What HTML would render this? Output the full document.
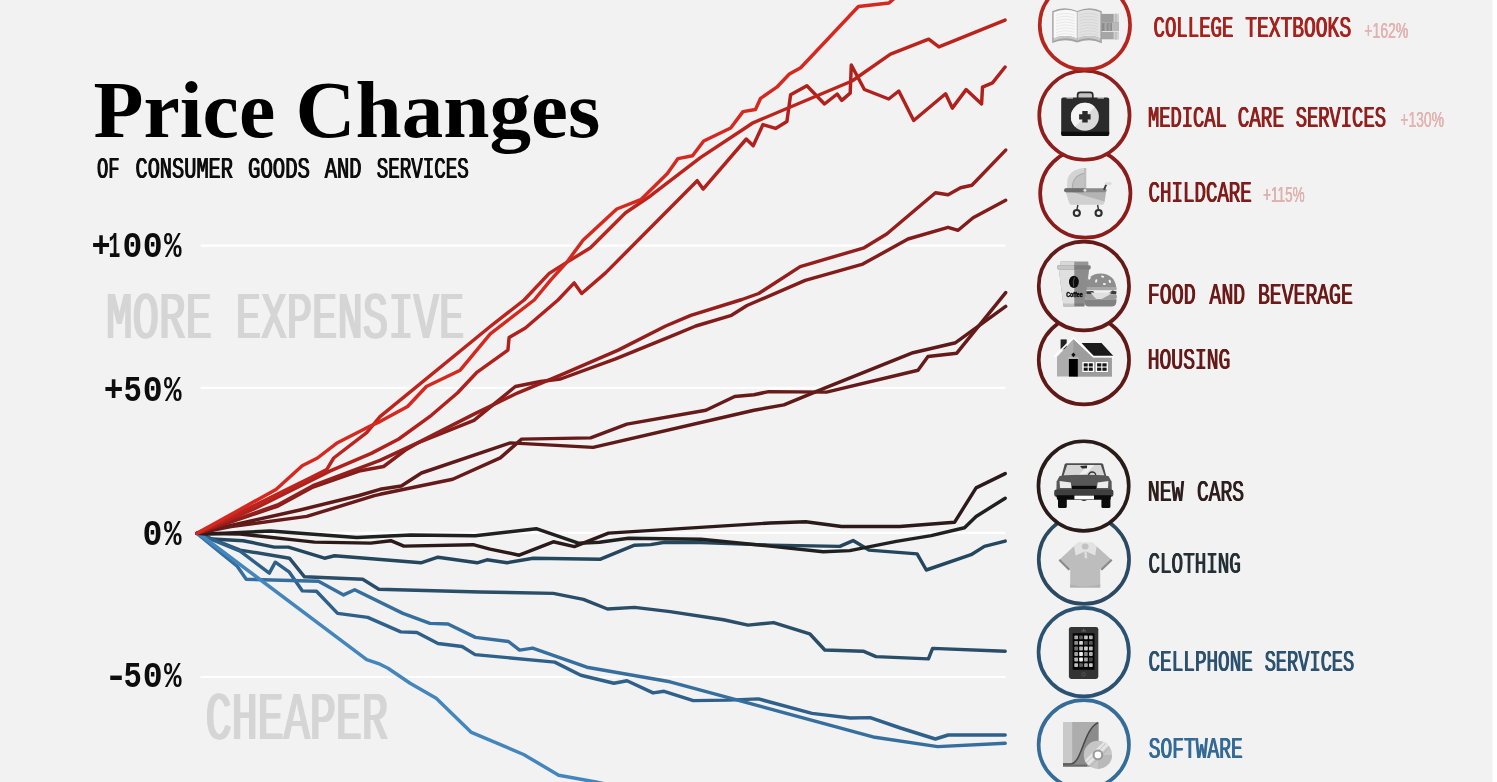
<!DOCTYPE html>
<html lang="en"><head><meta charset="utf-8"><title>Price Changes of Consumer Goods and Services</title>
<style>html,body{margin:0;padding:0;background:#fff;overflow:hidden}svg{display:block;will-change:transform}text{white-space:pre}</style></head><body>
<svg width="1497" height="782" viewBox="0 0 1497 782">
<rect x="0" y="0" width="1497" height="782" fill="#ffffff"/>
<rect x="0" y="0" width="1492.5" height="782" fill="#f2f2f2"/>
<g stroke="#ffffff" stroke-width="2.2">
<line x1="200.6" y1="245.7" x2="1005.3" y2="245.7"/>
<line x1="200.6" y1="387.8" x2="1005.3" y2="387.8"/>
<line x1="200.6" y1="532.9" x2="1005.3" y2="532.9"/>
<line x1="200.6" y1="677.0" x2="1005.3" y2="677.0"/>
</g>
<g font-family="'Liberation Mono', monospace" font-size="67.25" font-weight="normal" fill="#d5d5d5"><text id="t1" y="338.00"><tspan x="105.91" textLength="106.20" lengthAdjust="spacingAndGlyphs">MORE</tspan> <tspan x="235.85" textLength="228.56" lengthAdjust="spacingAndGlyphs">EXPENSIVE</tspan></text><use href="#t1" x="-1.00"/><use href="#t1" x="1.00"/></g>
<g font-family="'Liberation Mono', monospace" font-size="68.01" font-weight="normal" fill="#d5d5d5"><text id="t2" y="739.30"><tspan x="205.61" textLength="182.30" lengthAdjust="spacingAndGlyphs">CHEAPER</tspan></text><use href="#t2" x="-1.10"/><use href="#t2" x="1.10"/></g>
<g fill="none" stroke-width="3.45" stroke-linecap="round" stroke-linejoin="round">
<polyline stroke="#24475e" points="197,533.3 212,539 243.2,540.7 274.3,547.1 288.4,547.1 324.5,558.2 334.6,555.8 420.9,562.8 438,557.2 477.1,562.8 487,559.8 507.1,562.7 533.2,558.2 600.5,559.2 634.6,545.2 650.7,544.6 664.7,542.2 700.9,542.6 770,545.1 839.8,546.4 853.1,540.6 868.9,550.1 917.1,553.9 926.3,570 971.1,554.7 984.4,546.4 1005.2,541.1"/>
<polyline stroke="#2a4d68" points="197,533.3 212.1,539.1 240.2,550.1 289.4,558.2 304.5,576.8 362.7,579.3 378.8,589.3 480,592 553.3,593.4 583.4,599.4 607.5,609 634.6,607.4 670,611.6 723.5,619.8 748,625.1 773.6,622.6 809.7,633.8 824.8,650 863.2,651.2 876,656.6 928.4,658.9 932.6,648.4 1005.2,651.2"/>
<polyline stroke="#2f6089" points="197,533.3 240.2,551.1 269.3,573.2 275.3,562.2 289.4,572.2 302.4,590.9 316.5,591.3 337.6,613.4 367.7,617.4 400.8,631.9 416.9,632.5 438,643.5 462.1,646.5 475.1,654.6 554.7,662.1 580.8,675.2 613.9,683.2 627,680.8 653.1,692.9 664.1,691.3 693.3,700.6 728.2,700.1 758.5,698.9 812,713.4 850.4,718 870.2,717.6 900.4,728 935.4,739 948.2,735 1005.2,735"/>
<polyline stroke="#366f9d" points="197,533.3 221.1,553.2 237.2,566.2 246.2,579.3 318.5,581.3 343.6,594.9 354.7,589.7 402.9,613.4 430,623.4 448,624 475.4,637.4 508.5,641.5 519.6,650.1 532.6,648.1 586.8,667.2 670,681.8 874.8,737.3 937.7,746.6 1005.2,743.2"/>
<polyline stroke="#4386bd" points="197,533.3 202,536 366.7,659.6 380,664.2 388,668.2 410.1,683.2 436.2,698.3 471.4,732.4 523.6,754.5 558.7,775.2 595.9,782 615,786"/>
<polyline stroke="#202020" points="197,533.3 208,534 270.3,531 356.7,537.5 410.9,535 475.1,535.7 536.2,528.7 578.4,543.2 599.5,542.2 628.6,538.2 700.9,539.2 770,546.1 823.2,551.7 849.8,550.6 896.3,541.4 931.2,535.6 964.5,527.8 976.1,516.5 1005.2,498.2"/>
<polyline stroke="#2c1a1a" points="197,533.3 240.2,534 314.5,542.1 370.7,543.1 390.8,540.7 403.9,546.1 473.1,544.7 490,549.1 519.2,555.2 553.3,541.8 574.4,546.6 608.5,533.1 770,523 805.7,521.8 841.5,526.5 899.7,526.5 954.5,522.3 976.1,487.9 1005.2,473.6"/>
<polyline stroke="#5e1a18" points="197,533.3 231,525.5 300,510 359,495.5 380,489.3 401.3,486 421.4,473 510.4,442.9 593.1,447.4 754,410.3 783.9,404.9 825.2,387.8 913,352.7 955.6,342.7 1005.7,306.4"/>
<polyline stroke="#661a19" points="197,533.3 231,526.5 306.8,516.4 374.4,495.7 380,494.3 452.7,479.2 500.3,457.9 521.6,439.1 590.6,437.9 626.9,424.1 705.9,410.3 734.7,396.5 754,394.8 768.8,391.6 826.5,392.1 918,370.3 928,356.5 956.8,353.2 1005.7,292.6"/>
<polyline stroke="#821c1a" points="197,533.3 278,506 313,487 359,471 383.6,466.5 405.1,450.3 417.6,443 474,420.3 515.4,386.5 540.4,381.5 560.5,379 615.6,358.9 670.8,336.3 695.8,326 731.5,315.3 747,305.5 805.2,280.4 862.8,264.1 908,239 948.1,227.3 958.1,230.3 973.1,217.7 1005.7,200.2"/>
<polyline stroke="#931e1b" points="197,533.3 277.6,504.9 312.9,485.7 380,460.4 417.6,442.9 474,414.1 517.9,392.8 560.5,375.2 618.2,350.1 665.7,326 690.8,315.3 742,299.5 758.7,293.5 800.2,266.6 864.1,247.8 886.7,234 935.5,192.7 948.1,194.7 960.6,187.7 971.9,185.2 1005.7,150.1"/>
<polyline stroke="#b0201c" points="197,533.3 254.5,508.7 329.8,471.1 371.3,453.4 398.8,439 431.4,415.3 457.7,392.8 476.5,372.7 507.9,350.1 509.1,337.6 525.4,328 558,300 574.2,282.9 581.7,293.5 605.6,272.9 697.2,180.7 703.1,189.1 746.3,139 753.2,145.7 763,124.6 775.6,128.4 786.9,121.6 790.6,94.8 806.9,85.7 824.5,104 837.2,94 841.8,100.4 850.2,93.1 851.3,65 864.4,89.5 888.7,99 898.8,91 913.7,120.5 945.6,93.8 952.3,108.1 966.1,89.6 981.6,103.9 982.5,87.1 992.5,82.9 1005.1,67"/>
<polyline stroke="#bb241d" points="197,533.3 276,494.9 312.9,476.5 326.7,469.6 333.7,458 366.7,432.7 380,416.6 490.2,326.5 524.1,300 549.2,273.4 566.7,262.4 590.5,247.8 625.6,212.7 650.7,195.7 700.4,157.6 746,127.5 753,122.8 852,81 890.5,54.2 928.7,39.2 938.9,46.9 1005.1,20.1"/>
<polyline stroke="#d5281f" points="197,533.3 276,489.5 302.2,465.7 317.5,458 337.5,442.7 370.3,426 380,421.6 407.6,406.5 426.4,386.5 460.2,370.2 490.3,333.8 534.2,300 550.4,280.4 566.7,262.4 583,240.3 616.8,209 640.7,199.7 667.4,173.5 678,158.6 692.5,155.8 703.7,141 730.7,128 743,111.6 755.5,109.5 760.6,98.3 776.8,87.2 789.4,74 800.7,67.7 858.4,6.5 889,3 897,-4"/>
</g>
<g font-family="'Liberation Serif', serif" font-size="80.80" font-weight="bold" fill="#000000"><text id="t3" y="136.80"><tspan x="93.50" textLength="181.72" lengthAdjust="spacingAndGlyphs">Price</tspan> <tspan x="295.54" textLength="304.79" lengthAdjust="spacingAndGlyphs">Changes</tspan></text></g>
<g font-family="'Liberation Mono', monospace" font-size="30.21" font-weight="normal" fill="#0d0d0d"><text id="t4" y="178.20"><tspan x="96.91" textLength="22.61" lengthAdjust="spacingAndGlyphs">OF</tspan> <tspan x="135.48" textLength="97.49" lengthAdjust="spacingAndGlyphs">CONSUMER</tspan> <tspan x="248.06" textLength="61.96" lengthAdjust="spacingAndGlyphs">GOODS</tspan> <tspan x="324.70" textLength="36.74" lengthAdjust="spacingAndGlyphs">AND</tspan> <tspan x="376.76" textLength="91.98" lengthAdjust="spacingAndGlyphs">SERVICES</tspan></text><use href="#t4" x="-0.50"/><use href="#t4" x="0.50"/></g>
<g font-family="'Liberation Mono', monospace" font-size="36.08" font-weight="bold" fill="#0d0d0d"><text id="t5" y="256.80"><tspan x="91.43" textLength="19.15" lengthAdjust="spacingAndGlyphs">+</tspan><tspan x="108.47" textLength="11.87" lengthAdjust="spacingAndGlyphs">1</tspan><tspan x="122.42" textLength="19.78" lengthAdjust="spacingAndGlyphs">0</tspan><tspan x="142.80" textLength="19.91" lengthAdjust="spacingAndGlyphs">0</tspan><tspan x="164.00" textLength="17.59" lengthAdjust="spacingAndGlyphs">%</tspan></text></g>
<g font-family="'Liberation Mono', monospace" font-size="36.08" font-weight="bold" fill="#0d0d0d"><text id="t6" y="400.60"><tspan x="103.78" textLength="19.75" lengthAdjust="spacingAndGlyphs">+</tspan><tspan x="123.55" textLength="18.33" lengthAdjust="spacingAndGlyphs">5</tspan><tspan x="142.80" textLength="19.91" lengthAdjust="spacingAndGlyphs">0</tspan><tspan x="164.00" textLength="17.59" lengthAdjust="spacingAndGlyphs">%</tspan></text></g>
<g font-family="'Liberation Mono', monospace" font-size="36.38" font-weight="bold" fill="#0d0d0d"><text id="t7" y="544.60"><tspan x="142.40" textLength="19.91" lengthAdjust="spacingAndGlyphs">0</tspan><tspan x="164.00" textLength="17.59" lengthAdjust="spacingAndGlyphs">%</tspan></text></g>
<g font-family="'Liberation Mono', monospace" font-size="36.08" font-weight="bold" fill="#0d0d0d"><text id="t8" y="686.80"><tspan x="103.82" textLength="24.58" lengthAdjust="spacingAndGlyphs">-</tspan><tspan x="123.55" textLength="18.33" lengthAdjust="spacingAndGlyphs">5</tspan><tspan x="142.80" textLength="19.91" lengthAdjust="spacingAndGlyphs">0</tspan><tspan x="164.00" textLength="17.59" lengthAdjust="spacingAndGlyphs">%</tspan></text></g>
<g font-family="'Liberation Mono', monospace" font-size="29.76" font-weight="normal" fill="#a5221f"><text id="t9" y="36.70"><tspan x="1153.55" textLength="79.84" lengthAdjust="spacingAndGlyphs">COLLEGE</tspan> <tspan x="1245.27" textLength="105.89" lengthAdjust="spacingAndGlyphs">TEXTBOOKS</tspan></text><use href="#t9" x="-0.50"/><use href="#t9" x="0.50"/></g>
<g font-family="'Liberation Sans', sans-serif" font-size="22.18" font-weight="normal" fill="#e3b3b2"><text id="t10" y="37.70"><tspan x="1364.37" textLength="43.88" lengthAdjust="spacingAndGlyphs">+162%</tspan></text><use href="#t10" x="-0.15"/><use href="#t10" x="0.15"/></g>
<g font-family="'Liberation Mono', monospace" font-size="29.76" font-weight="normal" fill="#8f201d"><text id="t11" y="126.70"><tspan x="1148.02" textLength="78.87" lengthAdjust="spacingAndGlyphs">MEDICAL</tspan> <tspan x="1237.63" textLength="46.48" lengthAdjust="spacingAndGlyphs">CARE</tspan> <tspan x="1295.78" textLength="90.15" lengthAdjust="spacingAndGlyphs">SERVICES</tspan></text><use href="#t11" x="-0.50"/><use href="#t11" x="0.50"/></g>
<g font-family="'Liberation Sans', sans-serif" font-size="22.03" font-weight="normal" fill="#e2b5b3"><text id="t12" y="126.70"><tspan x="1400.37" textLength="43.67" lengthAdjust="spacingAndGlyphs">+130%</tspan></text><use href="#t12" x="-0.15"/><use href="#t12" x="0.15"/></g>
<g font-family="'Liberation Mono', monospace" font-size="29.76" font-weight="normal" fill="#7d1c1a"><text id="t13" y="201.70"><tspan x="1148.55" textLength="103.25" lengthAdjust="spacingAndGlyphs">CHILDCARE</tspan></text><use href="#t13" x="-0.50"/><use href="#t13" x="0.50"/></g>
<g font-family="'Liberation Sans', sans-serif" font-size="22.03" font-weight="normal" fill="#dfb2b0"><text id="t14" y="201.70"><tspan x="1263.10" textLength="41.52" lengthAdjust="spacingAndGlyphs">+115%</tspan></text><use href="#t14" x="-0.15"/><use href="#t14" x="0.15"/></g>
<g font-family="'Liberation Mono', monospace" font-size="29.60" font-weight="normal" fill="#6a1b19"><text id="t15" y="304.10"><tspan x="1147.71" textLength="47.90" lengthAdjust="spacingAndGlyphs">FOOD</tspan> <tspan x="1209.60" textLength="35.50" lengthAdjust="spacingAndGlyphs">AND</tspan> <tspan x="1257.94" textLength="94.90" lengthAdjust="spacingAndGlyphs">BEVERAGE</tspan></text><use href="#t15" x="-0.50"/><use href="#t15" x="0.50"/></g>
<g font-family="'Liberation Mono', monospace" font-size="30.06" font-weight="normal" fill="#641a18"><text id="t16" y="369.40"><tspan x="1147.75" textLength="82.56" lengthAdjust="spacingAndGlyphs">HOUSING</tspan></text><use href="#t16" x="-0.50"/><use href="#t16" x="0.50"/></g>
<g font-family="'Liberation Mono', monospace" font-size="29.76" font-weight="normal" fill="#2e1e1e"><text id="t17" y="500.70"><tspan x="1147.72" textLength="35.89" lengthAdjust="spacingAndGlyphs">NEW</tspan> <tspan x="1197.02" textLength="47.05" lengthAdjust="spacingAndGlyphs">CARS</tspan></text><use href="#t17" x="-0.50"/><use href="#t17" x="0.50"/></g>
<g font-family="'Liberation Mono', monospace" font-size="29.91" font-weight="normal" fill="#252f36"><text id="t18" y="573.20"><tspan x="1148.54" textLength="92.34" lengthAdjust="spacingAndGlyphs">CLOTHING</tspan></text><use href="#t18" x="-0.50"/><use href="#t18" x="0.50"/></g>
<g font-family="'Liberation Mono', monospace" font-size="29.76" font-weight="normal" fill="#2c5270"><text id="t19" y="670.70"><tspan x="1148.53" textLength="104.38" lengthAdjust="spacingAndGlyphs">CELLPHONE</tspan> <tspan x="1264.68" textLength="89.54" lengthAdjust="spacingAndGlyphs">SERVICES</tspan></text><use href="#t19" x="-0.50"/><use href="#t19" x="0.50"/></g>
<g font-family="'Liberation Mono', monospace" font-size="29.30" font-weight="normal" fill="#336a96"><text id="t20" y="757.90"><tspan x="1148.85" textLength="93.77" lengthAdjust="spacingAndGlyphs">SOFTWARE</tspan></text><use href="#t20" x="-0.50"/><use href="#t20" x="0.50"/></g>
<ellipse cx="1083.80" cy="744.50" rx="45.15" ry="44.40" fill="#f2f2f2" stroke="#356c98" stroke-width="3.7"/>
<g>
<rect x="1063.0" y="722.0" width="35.5" height="44.5" fill="#adadad"/>
<rect x="1063.0" y="722.0" width="9.2" height="44.5" fill="#c9c9c9"/>
<path d="M1063.0,764.2 L1070.5,764.2 C1082,764.2 1083,730 1098.5,722.2 L1098.5,766.5 L1063.0,766.5 Z" fill="#8b8b8b"/>
<path d="M1063.0,764.0 L1070.5,764.0 C1082,764.0 1083,730 1098.0,722.6" fill="none" stroke="#474747" stroke-width="1.5"/>
<rect x="1063.0" y="764.6" width="24" height="1.9" fill="#6a6a6a"/>
<circle cx="1097.9" cy="754.9" r="14.1" fill="#c6c6c6"/>
<path d="M1088.6,765.5 L1108.6,745.6 A14.1,14.1 0 0 0 1103.4,741.9 L1084.8,760.2 A14.1,14.1 0 0 0 1088.6,765.5 Z" fill="#e4e4e4"/>
<path d="M1090.2,766.7 L1109.6,747.2" stroke="#b2b2b2" stroke-width="0.9" fill="none"/>
<path d="M1086.4,763.0 L1105.8,743.4" stroke="#bdbdbd" stroke-width="0.9" fill="none"/>
<path d="M1097.9,769 A14.1,14.1 0 0 0 1112,754.9 L1097.9,754.9 Z" fill="#aeaeae" opacity="0.55"/>
<circle cx="1097.9" cy="754.9" r="5.4" fill="#9a9a9a"/>
<circle cx="1097.9" cy="754.9" r="3.3" fill="#ffffff"/>
</g>
<ellipse cx="1083.70" cy="652.05" rx="45.15" ry="44.20" fill="#f2f2f2" stroke="#2c5272" stroke-width="3.7"/>
<g><rect x="1068.9" y="626.9" width="29.4" height="52.1" rx="2.4" fill="#343434"/><rect x="1072.7" y="633.2" width="21.8" height="36.6" fill="#050505"/><path d="M1081.4,631.0 L1086.0,631.0 M1083.7,628.6 L1083.7,631.0" stroke="#8c8c8c" stroke-width="0.6" fill="none"/><circle cx="1083.6" cy="674.4" r="1.7" fill="none" stroke="#6a6a6a" stroke-width="0.6"/><rect x="1074.30" y="635.40" width="3.7" height="3.9" rx="0.7" fill="#a8a8a8"/><rect x="1079.20" y="635.40" width="3.7" height="3.9" rx="0.7" fill="#5d5d5d"/><rect x="1084.10" y="635.40" width="3.7" height="3.9" rx="0.7" fill="#c4c4c4"/><rect x="1089.00" y="635.40" width="3.7" height="3.9" rx="0.7" fill="#b2b2b2"/><rect x="1074.30" y="640.95" width="3.7" height="3.9" rx="0.7" fill="#8f8f8f"/><rect x="1079.20" y="640.95" width="3.7" height="3.9" rx="0.7" fill="#d6d6d6"/><rect x="1084.10" y="640.95" width="3.7" height="3.9" rx="0.7" fill="#4c4c4c"/><rect x="1089.00" y="640.95" width="3.7" height="3.9" rx="0.7" fill="#5a5a5a"/><rect x="1074.30" y="646.50" width="3.7" height="3.9" rx="0.7" fill="#6e6e6e"/><rect x="1079.20" y="646.50" width="3.7" height="3.9" rx="0.7" fill="#b5b5b5"/><rect x="1084.10" y="646.50" width="3.7" height="3.9" rx="0.7" fill="#cfcfcf"/><rect x="1089.00" y="646.50" width="3.7" height="3.9" rx="0.7" fill="#bdbdbd"/><rect x="1074.30" y="652.05" width="3.7" height="3.9" rx="0.7" fill="#a2a2a2"/><rect x="1079.20" y="652.05" width="3.7" height="3.9" rx="0.7" fill="#f0f0f0"/><rect x="1084.10" y="652.05" width="3.7" height="3.9" rx="0.7" fill="#8a8a8a"/><rect x="1089.00" y="652.05" width="3.7" height="3.9" rx="0.7" fill="#b0b0b0"/><rect x="1074.30" y="657.60" width="3.7" height="3.9" rx="0.7" fill="#b6b6b6"/><rect x="1079.20" y="657.60" width="3.7" height="3.9" rx="0.7" fill="#f4f4f4"/><rect x="1084.10" y="657.60" width="3.7" height="3.9" rx="0.7" fill="#a6a6a6"/><rect x="1089.00" y="657.60" width="3.7" height="3.9" rx="0.7" fill="#4a4a4a"/><rect x="1074.30" y="663.15" width="3.7" height="3.9" rx="0.7" fill="#c2c2c2"/><rect x="1079.20" y="663.15" width="3.7" height="3.9" rx="0.7" fill="#5e5e5e"/><rect x="1084.10" y="663.15" width="3.7" height="3.9" rx="0.7" fill="#a4a4a4"/><rect x="1089.00" y="663.15" width="3.7" height="3.9" rx="0.7" fill="#c8c8c8"/></g>
<ellipse cx="1083.90" cy="559.45" rx="45.15" ry="44.50" fill="#f2f2f2" stroke="#2b4a62" stroke-width="3.7"/>
<g>
<path d="M1073.6,546.6 L1058.6,560.4 L1068.6,570.4 L1070.2,568.8 L1070.2,587.4 L1100.2,587.4 L1100.2,568.8 L1102.0,570.4 L1112.4,560.4 L1096.8,546.6 Z" fill="#bdbdbd"/>
<path d="M1058.6,560.4 L1068.6,570.4 L1070.0,569.0 L1060.0,559.1 Z" fill="#8a8a8a"/>
<path d="M1112.4,560.4 L1102.0,570.4 L1100.6,569.0 L1111.0,559.1 Z" fill="#8a8a8a"/>
<path d="M1070.2,584.4 Q1085,588.4 1100.2,584.4 L1100.2,587.4 L1070.2,587.4 Z" fill="#b0b0b0"/>
<path d="M1078.2,542.2 L1092.4,542.2 L1096.6,546.0 L1095.2,555.6 L1086.6,551.8 L1084.4,551.8 L1075.6,555.6 L1074.0,546.0 Z" fill="#e2e2e2"/>
<ellipse cx="1085.2" cy="546.6" rx="3.4" ry="3.0" fill="#c2c2c2"/>
<path d="M1084.2,551.8 L1086.8,551.8 L1087.4,558.6 L1084.6,558.6 Z" fill="#d6d6d6"/>
<circle cx="1085.8" cy="553.6" r="0.7" fill="#f4f4f4"/><circle cx="1086.0" cy="556.6" r="0.7" fill="#f4f4f4"/>
</g>
<ellipse cx="1083.60" cy="486.05" rx="45.15" ry="44.80" fill="#f2f2f2" stroke="#2a1b1b" stroke-width="3.7"/>
<g>
<rect x="1058.0" y="497.5" width="8.8" height="10.6" rx="1.6" fill="#0c0c0c"/>
<rect x="1101.4" y="497.5" width="9.0" height="10.6" rx="1.6" fill="#0c0c0c"/>
<path d="M1066.6,463.2 L1101.2,463.2 Q1102.6,463.2 1103.2,464.6 L1106.4,476.6 L1061.4,476.6 L1064.6,464.6 Q1065.2,463.2 1066.6,463.2 Z" fill="#4e4e4e"/>
<path d="M1067.2,465.0 L1100.8,465.0 L1104.4,475.6 L1063.6,475.6 Z" fill="#d6d6d6"/>
<path d="M1078,475.6 L1088.5,465.0 L1094.5,465.0 L1084.5,475.6 Z" fill="#efefef"/>
<path d="M1080,466 L1087,465.6 L1087,468.2 L1082,468.6 Z" fill="#2a2a2a"/>
<path d="M1088.6,475.6 A3.6,3.6 0 0 1 1095.8,475.6" fill="none" stroke="#333" stroke-width="1.3"/>
<path d="M1059.6,476.0 Q1084,473.4 1108.4,476.0 L1111.6,481.5 L1111.8,491.0 L1056.4,491.0 L1056.6,481.5 Z" fill="#575757"/>
<path d="M1059.6,481.0 L1070.8,482.4 L1071.4,488.0 L1060.0,488.0 Z" fill="#ececec"/>
<path d="M1108.4,481.0 L1097.6,482.4 L1097.0,488.0 L1108.0,488.0 Z" fill="#ececec"/>
<rect x="1072.0" y="485.8" width="24.2" height="3.4" fill="#0a0a0a"/>
<rect x="1054.2" y="489.6" width="59.2" height="7.2" rx="2.2" fill="#3f3f3f"/>
<path d="M1056.2,495.2 L1111.4,495.2 L1110.4,499.8 L1057.2,499.8 Z" fill="#0a0a0a"/>
<rect x="1074.4" y="495.6" width="19.6" height="3.7" fill="#ffffff"/>
<path d="M1081,500.0 Q1084,501.8 1087,500.0 Z" fill="#333"/>
</g>
<ellipse cx="1083.90" cy="360.00" rx="45.15" ry="44.40" fill="#f2f2f2" stroke="#5f1a17" stroke-width="3.7"/>
<g>
<rect x="1060.6" y="339.4" width="6.1" height="10" fill="#222222"/>
<path d="M1057.0,357.0 L1073.4,339.2 L1093.0,357.4 L1111.8,357.4 L1111.8,376.6 L1057.0,376.6 Z" fill="#adadad"/>
<path d="M1073.4,339.2 L1093.0,357.4 L1111.8,357.4 L1111.8,376.6 L1073.4,376.6 Z" fill="#9c9c9c"/>
<path d="M1081.6,343.0 L1101.5,343.0 L1113.4,355.9 L1093.3,355.9 Z" fill="#1b1b1b"/>
<path d="M1054.2,356.9 L1073.4,337.6 L1093.4,356.6 L1113.8,356.6" fill="none" stroke="#ffffff" stroke-width="1.6" stroke-linejoin="miter"/>
<rect x="1068.9" y="358.2" width="8.9" height="18.4" fill="#000000"/>
<rect x="1068.3" y="357.6" width="10.1" height="1.2" fill="#d8d8d8"/>
<path d="M1073.4,352.4 L1075.5,354.8 L1073.4,357.2 L1071.3,354.8 Z" fill="#111111"/>
<rect x="1082.3" y="362.0" width="11.8" height="10" fill="#ffffff"/>
<rect x="1095.7" y="362.0" width="12.2" height="10" fill="#ffffff"/>
<g fill="#151515">
<rect x="1083.7" y="363.3" width="4.0" height="3.2"/><rect x="1088.8" y="363.3" width="4.0" height="3.2"/><rect x="1083.7" y="367.6" width="4.0" height="3.2"/><rect x="1088.8" y="367.6" width="4.0" height="3.2"/>
<rect x="1097.1" y="363.3" width="4.2" height="3.2"/><rect x="1102.4" y="363.3" width="4.2" height="3.2"/><rect x="1097.1" y="367.6" width="4.2" height="3.2"/><rect x="1102.4" y="367.6" width="4.2" height="3.2"/>
</g>
</g>
<ellipse cx="1083.90" cy="285.95" rx="45.15" ry="44.35" fill="#f2f2f2" stroke="#641a18" stroke-width="3.7"/>
<g>
<!-- burger -->
<path d="M1085.5,287.0 Q1086.5,274.0 1100.5,273.4 Q1114.5,274.0 1116.2,287.0 Z" fill="#8e8e8e"/>
<g fill="#f4f4f4"><ellipse cx="1089.6" cy="278.2" rx="1.0" ry="1.6" transform="rotate(25 1089.6 278.2)"/><ellipse cx="1096.2" cy="281.0" rx="1.0" ry="1.7" transform="rotate(15 1096.2 281)"/><ellipse cx="1102.6" cy="276.6" rx="1.6" ry="1.0" transform="rotate(15 1102.6 276.6)"/><ellipse cx="1109.8" cy="281.4" rx="1.1" ry="1.7" transform="rotate(-20 1109.8 281.4)"/><ellipse cx="1104.4" cy="284.0" rx="1.5" ry="0.9"/></g>
<rect x="1085.2" y="287.0" width="31.6" height="3.2" rx="1.2" fill="#a8a8a8"/>
<path d="M1086,291.2 L1093,291.0 L1096,294.5 L1086.5,294.5 Z" fill="#3a3a3a"/>
<path d="M1108,293.5 L1112.5,290.6 L1116.6,291.4 L1116.0,294.5 Z" fill="#3a3a3a"/>
<rect x="1085.2" y="294.3" width="31.6" height="4.6" rx="1.6" fill="#9c9c9c"/>
<path d="M1090.5,292.6 L1111.5,292.6 L1108.5,295.2 L1098.2,301.0 L1094.0,296.8 Z" fill="#e0e0e0"/>
<path d="M1084.4,299.2 L1116.6,299.2 L1116.2,303.0 Q1115.4,306.6 1111.6,306.6 L1088.6,306.6 Q1085.2,306.6 1084.6,303.0 Z" fill="#828282"/>
<!-- cup -->
<path d="M1058.8,269.0 L1089.2,269.0 L1084.4,306.6 L1063.6,306.6 Z" fill="#8c8c8c"/>
<path d="M1058.8,269.0 L1074.3,269.0 L1074.3,306.6 L1063.6,306.6 Z" fill="#dfdfdf"/>
<path d="M1063.2,303.6 L1084.8,303.6 L1084.4,306.6 L1063.6,306.6 Z" fill="#000" opacity="0.12"/>
<rect x="1060.2" y="261.6" width="28.2" height="4.4" rx="1" fill="#959595"/>
<rect x="1060.2" y="261.6" width="14.1" height="4.4" rx="1" fill="#d8d8d8"/>
<rect x="1057.3" y="265.2" width="33.4" height="4.2" rx="1.3" fill="#7e7e7e"/>
<rect x="1057.3" y="265.2" width="17" height="4.2" rx="1.3" fill="#c6c6c6"/>
<ellipse cx="1073.9" cy="281.9" rx="4.9" ry="6.2" fill="#0b0b0b"/>
<path d="M1074.6,277.4 Q1072.2,281.8 1073.8,286.6" stroke="#5a5a5a" stroke-width="0.9" fill="none"/>
<text x="1066.3" y="296.6" textLength="16.4" lengthAdjust="spacingAndGlyphs" font-family="'Liberation Sans', sans-serif" font-weight="bold" font-size="6.3" fill="#0a0a0a" stroke="#0a0a0a" stroke-width="0.45">Coffee</text>
</g>
<ellipse cx="1085.30" cy="193.30" rx="45.15" ry="44.40" fill="#f2f2f2" stroke="#8a1d1b" stroke-width="3.7"/>
<g>
<path d="M1067.0,188.6 L1067.3,180.5 Q1069.0,169.6 1084.0,168.0 L1086.2,168.0 L1086.2,188.6 Z" fill="#d3d3d3"/>
<path d="M1072.2,188.6 Q1072.6,175.5 1084.2,173.2 L1084.2,188.6 Z" fill="#c2c2c2"/>
<path d="M1072.2,188.6 Q1072.6,175.5 1084.2,173.2" fill="none" stroke="#a9a9a9" stroke-width="1.1"/>
<rect x="1084.0" y="168.0" width="2.2" height="20.8" fill="#bdbdbd"/>
<path d="M1065.7,192.0 L1106.0,192.0 L1104.2,203.0 Q1104.0,204.8 1102.2,204.8 L1071.4,204.8 Q1069.6,204.8 1069.2,203.0 Z" fill="#d0d0d0"/>
<path d="M1072,192.0 L1106.0,192.0 L1104.6,201.5 Z" fill="#b4b4b4"/>
<rect x="1064.2" y="188.3" width="42.4" height="3.9" rx="1.9" fill="#8a8a8a"/>
<rect x="1064.2" y="188.3" width="21" height="3.9" rx="1.9" fill="#6f6f6f"/>
<circle cx="1084.9" cy="190.2" r="1.5" fill="#dedede"/>
<path d="M1104.2,189.2 L1106.2,184.6" stroke="#3c3c3c" stroke-width="1.9" stroke-linecap="round" fill="none"/>
<ellipse cx="1108.3" cy="183.5" rx="3.6" ry="1.6" fill="#dddddd"/>
<path d="M1077.9,205 L1077.0,209.4 M1097.6,205 L1098.4,209.4" stroke="#333" stroke-width="1.4" fill="none"/>
<circle cx="1076.8" cy="213.0" r="3.05" fill="#f2f2f2" stroke="#2e2e2e" stroke-width="2.1"/>
<circle cx="1098.6" cy="213.0" r="3.05" fill="#f2f2f2" stroke="#2e2e2e" stroke-width="2.1"/>
</g>
<ellipse cx="1084.40" cy="115.25" rx="45.15" ry="44.50" fill="#f2f2f2" stroke="#8f1f1c" stroke-width="3.7"/>
<g>
<rect x="1077.6" y="92.3" width="15.2" height="8" rx="2.6" fill="#c4c4c4" stroke="#2a2a2a" stroke-width="1.7"/>
<rect x="1061.2" y="97.4" width="48" height="38.6" rx="2" fill="#2b2b2b"/>
<path d="M1061.2,131.8 H1109.2 V134 Q1109.2,136 1107.2,136 H1063.2 Q1061.2,136 1061.2,134 Z" fill="#0e0e0e"/>
<rect x="1066.5" y="97.4" width="6.5" height="1.1" fill="#e9e9e9"/>
<rect x="1097.5" y="97.4" width="6.5" height="1.1" fill="#e9e9e9"/>
<circle cx="1084.9" cy="116.8" r="14" fill="#dadada"/>
<path d="M1075.0,126.7 A14,14 0 0 1 1094.8,106.9 Z" fill="#f3f3f3"/>
<path d="M1082.3,111 H1087.7 V114.2 H1090.6 V119.4 H1087.7 V122.6 H1082.3 V119.4 H1079.1 V114.2 H1082.3 Z" fill="#2a2a2a"/>
</g>
<ellipse cx="1084.90" cy="25.05" rx="45.15" ry="44.40" fill="#f2f2f2" stroke="#b5261e" stroke-width="3.7"/>
<g>
<!-- stacked books behind -->
<rect x="1100.5" y="13.9" width="17.9" height="8.6" fill="#9e9e9e"/>
<rect x="1113.6" y="13.9" width="4.8" height="8.6" fill="#cfcfcf"/>
<rect x="1115.3" y="13.9" width="1.2" height="8.6" fill="#b5b5b5"/>
<rect x="1100.5" y="22.5" width="18.4" height="8.6" fill="#8c8c8c"/>
<rect x="1104.5" y="22.5" width="2.2" height="8.6" fill="#a9a9a9"/>
<rect x="1108.3" y="22.5" width="2.2" height="8.6" fill="#a0a0a0"/>
<rect x="1112.0" y="22.5" width="6.9" height="8.6" fill="#b9b9b9"/>
<rect x="1100.5" y="31.1" width="17.9" height="0.9" fill="#e2e2e2"/>
<rect x="1100.5" y="32.0" width="17.9" height="7.3" fill="#a6a6a6"/>
<rect x="1113.6" y="32.0" width="4.8" height="7.3" fill="#d2d2d2"/>
<rect x="1115.3" y="32.0" width="1.2" height="7.3" fill="#b8b8b8"/>
<!-- cover -->
<path d="M1052.2,11.3 Q1064,5.6 1077.2,11.0 Q1090,5.6 1101.8,11.2 L1101.8,43.3 Q1090,37.6 1077.2,42.6 Q1064,37.6 1052.2,43.1 Z" fill="#a2a2a2"/>
<!-- pages -->
<path d="M1053.6,12.2 Q1064.5,7.2 1077.2,12.0 L1077.2,38.4 Q1064.5,33.6 1053.6,38.4 Z" fill="#f8f8f8"/>
<path d="M1077.2,12.0 Q1089.8,7.2 1100.4,12.2 L1100.4,38.4 Q1089.8,33.6 1077.2,38.4 Z" fill="#e2e2e2"/>
<path d="M1053.6,38.4 Q1064.5,33.6 1077.2,38.4 Q1089.8,33.6 1100.4,38.4 L1100.4,40.9 Q1089.8,36.0 1077.2,40.6 Q1064.5,36.0 1053.6,40.9 Z" fill="#c9c9c9"/>
<g fill="none" stroke="#dcdcdc" stroke-width="0.6">
<path d="M1056,15.3 Q1065,11.6 1074.6,15.0"/><path d="M1056,18.2 Q1065,14.5 1074.6,17.9"/><path d="M1056,21.1 Q1065,17.4 1074.6,20.8"/><path d="M1056,24.0 Q1065,20.3 1074.6,23.7"/><path d="M1056,26.9 Q1065,23.2 1074.6,26.6"/><path d="M1056,29.8 Q1065,26.1 1074.6,29.5"/><path d="M1056,32.7 Q1065,29.0 1074.6,32.4"/><path d="M1056,35.6 Q1065,31.9 1074.6,35.3"/>
</g>
<g fill="none" stroke="#cdcdcd" stroke-width="0.6">
<path d="M1079.6,15.0 Q1089,11.6 1098,15.3"/><path d="M1079.6,17.9 Q1089,14.5 1098,18.2"/><path d="M1079.6,20.8 Q1089,17.4 1098,21.1"/><path d="M1079.6,23.7 Q1089,20.3 1098,24.0"/><path d="M1079.6,26.6 Q1089,23.2 1098,26.9"/><path d="M1079.6,29.5 Q1089,26.1 1098,29.8"/><path d="M1079.6,32.4 Q1089,29.0 1098,32.7"/><path d="M1079.6,35.3 Q1089,31.9 1098,35.6"/>
</g>
<path d="M1077.2,12.0 L1077.2,41.0" stroke="#bdbdbd" stroke-width="0.8" fill="none"/>
</g>
</svg></body></html>
